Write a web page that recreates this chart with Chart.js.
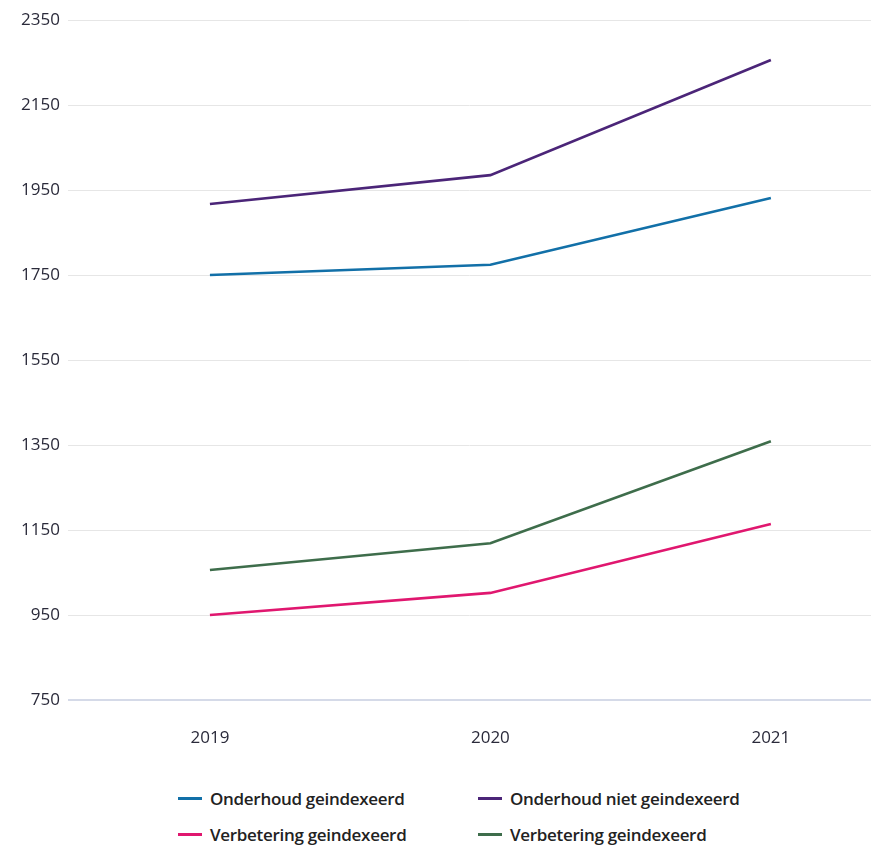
<!DOCTYPE html>
<html>
<head>
<meta charset="utf-8">
<script src="https://cdn.jsdelivr.net/npm/chart.js@4"></script>
<style>
    body { margin: 0; background: #fff; }
    #wrap { position: relative; width: 871px; height: 770px; }
    .legend { position: absolute; left: 178px; top: 787px; width: 660px; font-family: "Open Sans", sans-serif; font-weight: 600; font-size: 17px; letter-spacing: -0.3px; color: #222; }
    .legend .item { position: absolute; white-space: nowrap; display: flex; align-items: center; }
    .legend .swatch { width: 24px; height: 3px; margin-right: 8px; display: inline-block; }
</style>
</head>
<body>
<div id="wrap"><canvas id="lijnChart"></canvas></div>
<div class="legend" id="legenda"></div>
<script>
// Gegevens
const jaren = [2019, 2020, 2021];
const onderhoudGeindexeerd = [1750, 1774, 1931];
const onderhoudNietGeindexeerd = [1917, 1985, 2256];
const verbeteringGeindexeerd = [950, 1002, 1164];
const verbeteringGeindexeerd2 = [1056, 1119, 1359];
const yTicks = [750, 950, 1150, 1350, 1550, 1750, 1950, 2150, 2350];

const reeksen = [
    { label: 'Onderhoud geindexeerd', data: onderhoudGeindexeerd, kleur: '#1270a8' },
    { label: 'Onderhoud niet geindexeerd', data: onderhoudNietGeindexeerd, kleur: '#4b2578' },
    { label: 'Verbetering geindexeerd', data: verbeteringGeindexeerd, kleur: '#e0176f' },
    { label: 'Verbetering geindexeerd', data: verbeteringGeindexeerd2, kleur: '#3e6d4b' }
];

const ctx = document.getElementById('lijnChart').getContext('2d');
const chart = new Chart(ctx, {
    type: 'line',
    data: {
        datasets: reeksen.map(r => ({
            label: r.label,
            data: r.data.map((v, i) => ({ x: jaren[i], y: v })),
            borderColor: r.kleur,
            backgroundColor: r.kleur,
            borderWidth: 2.6,
            pointRadius: 0,
            tension: 0
        }))
    },
    options: {
        responsive: true,
        maintainAspectRatio: false,
        animation: false,
        layout: { padding: { top: 20, right: 0, left: 0, bottom: 0 } },
        plugins: {
            legend: { display: false },
            tooltip: { enabled: false }
        },
        scales: {
            x: {
                type: 'linear',
                min: 2018.494,
                max: 2021.357,
                afterBuildTicks: s => { s.ticks = jaren.map(j => ({ value: j })); },
                afterFit: s => { s.height = 70; },
                grid: { display: false, drawTicks: false },
                border: { display: false },
                ticks: {
                    padding: 28,
                    color: '#2a2a3a',
                    font: { family: 'Open Sans', size: 17 },
                    callback: v => String(v)
                }
            },
            y: {
                min: 750,
                max: 2350,
                afterBuildTicks: s => { s.ticks = yTicks.map(v => ({ value: v })); },
                afterFit: s => { s.width = 68; },
                grid: {
                    drawTicks: false,
                    color: c => (c.tick && c.tick.value === 750) ? '#d5dae8' : '#e6e6e6',
                    lineWidth: c => (c.tick && c.tick.value === 750) ? 2 : 1
                },
                border: { display: false },
                ticks: {
                    padding: 8,
                    color: '#2a2a3a',
                    font: { family: 'Open Sans', size: 17 },
                    callback: v => String(v)
                }
            }
        }
    }
});

// Legenda opbouwen
const legenda = document.getElementById('legenda');
const posities = [[0, 0], [300, 0], [0, 36], [300, 36]];
reeksen.forEach((r, i) => {
    const el = document.createElement('div');
    el.className = 'item';
    el.style.left = posities[i][0] + 'px';
    el.style.top = posities[i][1] + 'px';
    el.innerHTML = '<span class="swatch" style="background:' + r.kleur + '"></span>' + r.label;
    legenda.appendChild(el);
});
</script>
</body>
</html>
